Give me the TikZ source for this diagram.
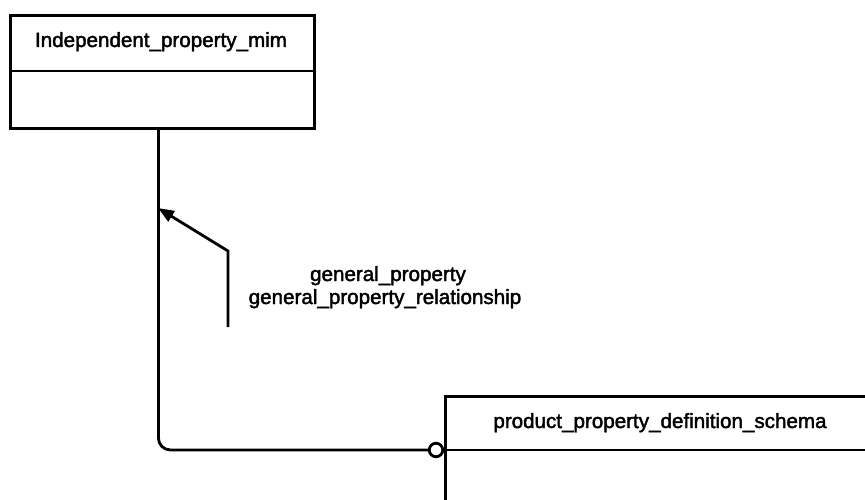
\documentclass[tikz,border=0pt]{standalone}
\usepackage{fontspec}
\setmainfont{Liberation Sans}
\newfontfamily\labelfont{Liberation Sans}[FakeBold=2]
\usetikzlibrary{arrows.meta}
\begin{document}
\begin{tikzpicture}[x=1pt,y=-1pt,
  box/.style={draw, line width=2.8pt, inner sep=0pt},
  title/.style={font=\labelfont\fontsize{20.6}{23}\selectfont, inner sep=0pt, anchor=base},
  conn/.style={line width=2.8pt},
  ring/.style={circle, draw, fill=white, line width=2.8pt, minimum size=13.5pt, inner sep=0pt},
]
\useasboundingbox (0,0) rectangle (865,500);
\clip (0,0) rectangle (865,500);
% top entity
\node[box, minimum width=304pt, minimum height=113pt, anchor=north west] (ipm) at (9,14) {};
\draw[conn] (ipm.west |- 0,71) -- (ipm.east |- 0,71);
\node[title] (ipmt) at (161,47) {Independent\_property\_mim};
% bottom-right entity
\node[box, minimum width=440pt, minimum height=150pt, anchor=north west] (ppds) at (444,395) {};
\draw[conn] (ppds.west |- 0,450) -- (ppds.east |- 0,450);
\node[title] (ppdst) at (660,428) {product\_property\_definition\_schema};
% connector
\node[ring] (c) at (436,450) {};
\draw[conn, rounded corners=12pt] ([xshift=-4pt]ipm.south) |- (c.west);
% direction arrow
\coordinate (a0) at (228,327);
\coordinate (a1) at (228,251);
\coordinate (a2) at (158,208);
\draw[conn, -{Triangle[length=16pt,width=12pt]}] (a0) -- (a1) -- (a2);
% labels
\node[title] (l1) at (388,281) {general\_property};
\node[title] (l2) at (385,304) {general\_property\_relationship};
\end{tikzpicture}
\end{document}
